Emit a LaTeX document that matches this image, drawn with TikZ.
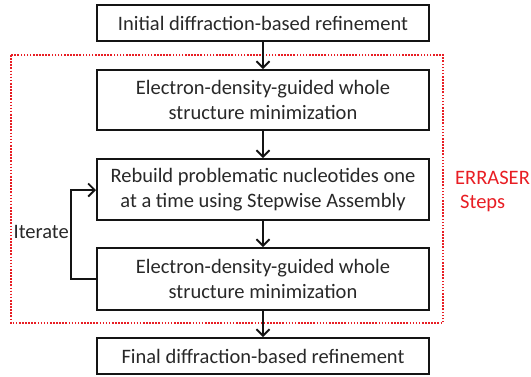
\documentclass[tikz,border=0pt]{standalone}
\usepackage{fontspec}
\setmainfont{Carlito}
\usetikzlibrary{arrows.meta}
\definecolor{boxline}{RGB}{20,20,20}
\definecolor{txt}{RGB}{40,40,40}
\definecolor{errred}{RGB}{232,30,36}
\begin{document}
\begin{tikzpicture}[x=1pt,y=-1pt,
  font=\fontsize{20.5}{24.5}\selectfont,
  stepbox/.style={draw=boxline, line width=2pt, minimum width=332pt, inner sep=0pt, align=center, text=txt},
  conn/.style={draw=boxline, line width=1.8pt, -{Straight Barb[length=6.5pt,width=13pt,line width=1.8pt]}},
  redbox/.style={draw=errred, line width=2pt, dash pattern=on 1.6pt off 1.5pt},
  redtext/.style={text=errred, anchor=west, inner sep=0pt}]
\useasboundingbox (0,0) rectangle (531,376);
\draw[redbox] (11,55) rectangle (443,323);
\node[stepbox, minimum height=36pt] (b1) at (263,23) {Initial diffraction-based refinement};
\node[stepbox, minimum height=60pt] (b2) at (263,100) {Electron-density-guided whole\\structure minimization};
\node[stepbox, minimum height=61pt] (b3) at (263,189.5) {Rebuild problematic nucleotides one\\at a time using Stepwise Assembly};
\node[stepbox, minimum height=62pt] (b4) at (263,279) {Electron-density-guided whole\\structure minimization};
\node[stepbox, minimum height=36pt] (b5) at (263,356) {Final diffraction-based refinement};
\coordinate (lb) at (71,279);
\coordinate (lt) at (71,190);
\draw[conn] (b1) -- (b2);
\draw[conn] (b2) -- (b3);
\draw[conn] (b3) -- (b4);
\draw[conn] (b4) -- (b5);
\draw[conn] (b4.west) -- (lb) -- (lt) -- (b3.west |- lt);
\node[anchor=east, inner sep=0pt, text=txt] (it) at (69,232) {Iterate};
\node[redtext] (err) at (455,178) {ERRASER};
\node[redtext] (stp) at (460,203) {Steps};
\end{tikzpicture}
\end{document}
